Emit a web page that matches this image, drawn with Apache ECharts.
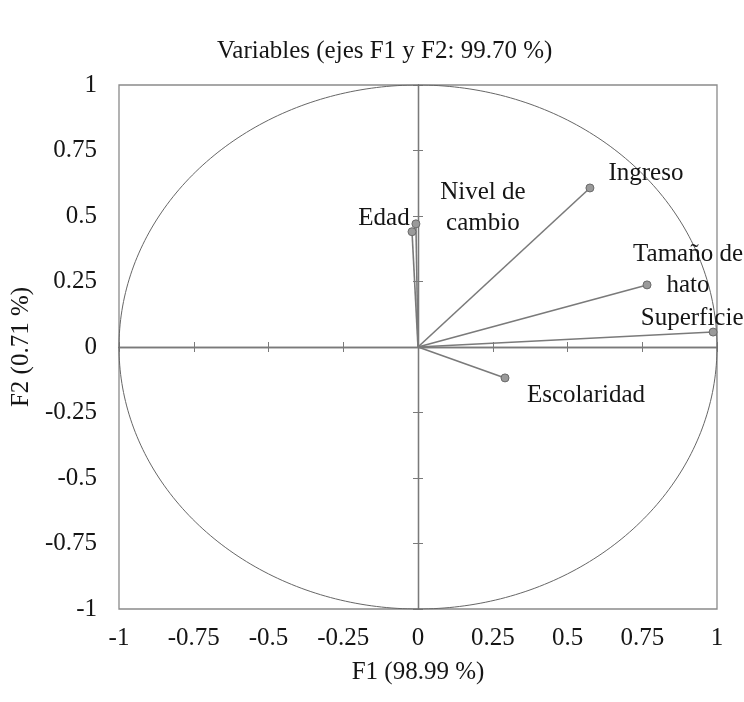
<!DOCTYPE html>
<html>
<head>
<meta charset="utf-8">
<script src="https://cdn.jsdelivr.net/npm/echarts@6/dist/echarts.min.js"></script>
<style>
html,body{margin:0;padding:0;background:#fff;}
#chart{width:744px;height:702px;}
</style>
</head>
<body>
<div id="chart"></div>
<script>
// ---- data ----
const variables = ['Ingreso', 'Tamaño de\nhato', 'Superficie', 'Escolaridad', 'Edad', 'Nivel de\ncambio'];
const f1 = [0.575, 0.766, 0.987, 0.291, -0.02, -0.007];
const f2 = [0.607, 0.237, 0.057, -0.118, 0.44, 0.47];
const labelOffsets = [[56, -15], [41, -15], [-21, -14], [81, 18], [-28, -13], [67, -16]];
const axisMin = -1, axisMax = 1, axisStep = 0.25;
const titleText = 'Variables (ejes F1 y F2: 99.70 %)';
const xName = 'F1 (98.99 %)';
const yName = 'F2 (0.71 %)';

const FONT = 'Liberation Serif';
const TXT = '#151515';
const FS = 25;

// unit correlation circle (reference geometry)
const circle = [];
for (let a = 0; a <= 360; a += 1) {
  const r = a * Math.PI / 180;
  circle.push([Math.cos(r), Math.sin(r)]);
}

const gridRect = { left: 119, right: 27, top: 85, bottom: 93 };

const series = [{
  type: 'line', xAxisIndex: 0, yAxisIndex: 0, data: circle, symbol: 'none',
  lineStyle: { color: '#666666', width: 1 }, silent: true, z: 1
}];
variables.forEach((name, i) => {
  series.push({
    type: 'line', xAxisIndex: 0, yAxisIndex: 0, symbol: 'none', z: 3,
    lineStyle: { color: '#7a7a7a', width: 1.6 },
    data: [
      [0, 0],
      {
        value: [f1[i], f2[i]], symbol: 'circle', symbolSize: 8,
        itemStyle: { color: '#9a9a9a', borderColor: '#6a6a6a', borderWidth: 1 },
        label: {
          show: true, position: 'inside', offset: labelOffsets[i],
          formatter: name, color: TXT, fontFamily: FONT, fontSize: FS,
          lineHeight: 31, align: 'center', verticalAlign: 'middle'
        }
      }
    ]
  });
});

function tickAxis(pos, grid) {
  return {
    type: 'value', gridIndex: grid, position: pos, min: axisMin, max: axisMax, interval: axisStep,
    axisLine: { show: true, onZero: true, lineStyle: { color: '#7a7a7a', width: 1.3 } },
    axisTick: { show: true, length: 5, inside: false, lineStyle: { color: '#7a7a7a', width: 1 } },
    axisLabel: { show: false }, splitLine: { show: false }
  };
}

const option = {
  animation: false,
  backgroundColor: '#ffffff',
  title: {
    text: titleText, left: 212, top: 34,
    textStyle: { fontFamily: FONT, fontSize: FS, fontWeight: 'normal', color: TXT }
  },
  grid: [
    Object.assign({ show: true, borderColor: '#8a8a8a', borderWidth: 1.3, backgroundColor: 'transparent' }, gridRect),
    Object.assign({}, gridRect)
  ],
  xAxis: [
    {
      type: 'value', gridIndex: 0, position: 'bottom', min: axisMin, max: axisMax, interval: axisStep,
      name: xName, nameLocation: 'middle', nameGap: 51,
      nameTextStyle: { fontFamily: FONT, fontSize: FS, color: TXT },
      axisLine: { show: false, onZero: false }, axisTick: { show: false },
      axisLabel: { fontFamily: FONT, fontSize: FS, color: TXT, margin: 17 },
      splitLine: { show: false }
    },
    tickAxis('bottom', 1),
    tickAxis('top', 1)
  ],
  yAxis: [
    {
      type: 'value', gridIndex: 0, position: 'left', min: axisMin, max: axisMax, interval: axisStep,
      name: yName, nameLocation: 'middle', nameGap: 85, nameRotate: 90,
      nameTextStyle: { fontFamily: FONT, fontSize: FS, color: TXT },
      axisLine: { show: false, onZero: false }, axisTick: { show: false },
      axisLabel: { fontFamily: FONT, fontSize: FS, color: TXT, margin: 22 },
      splitLine: { show: false }
    },
    tickAxis('left', 1),
    tickAxis('right', 1)
  ],
  series: series
};

const chart = echarts.init(document.getElementById('chart'), null, { renderer: 'canvas' });
chart.setOption(option);
</script>
</body>
</html>
